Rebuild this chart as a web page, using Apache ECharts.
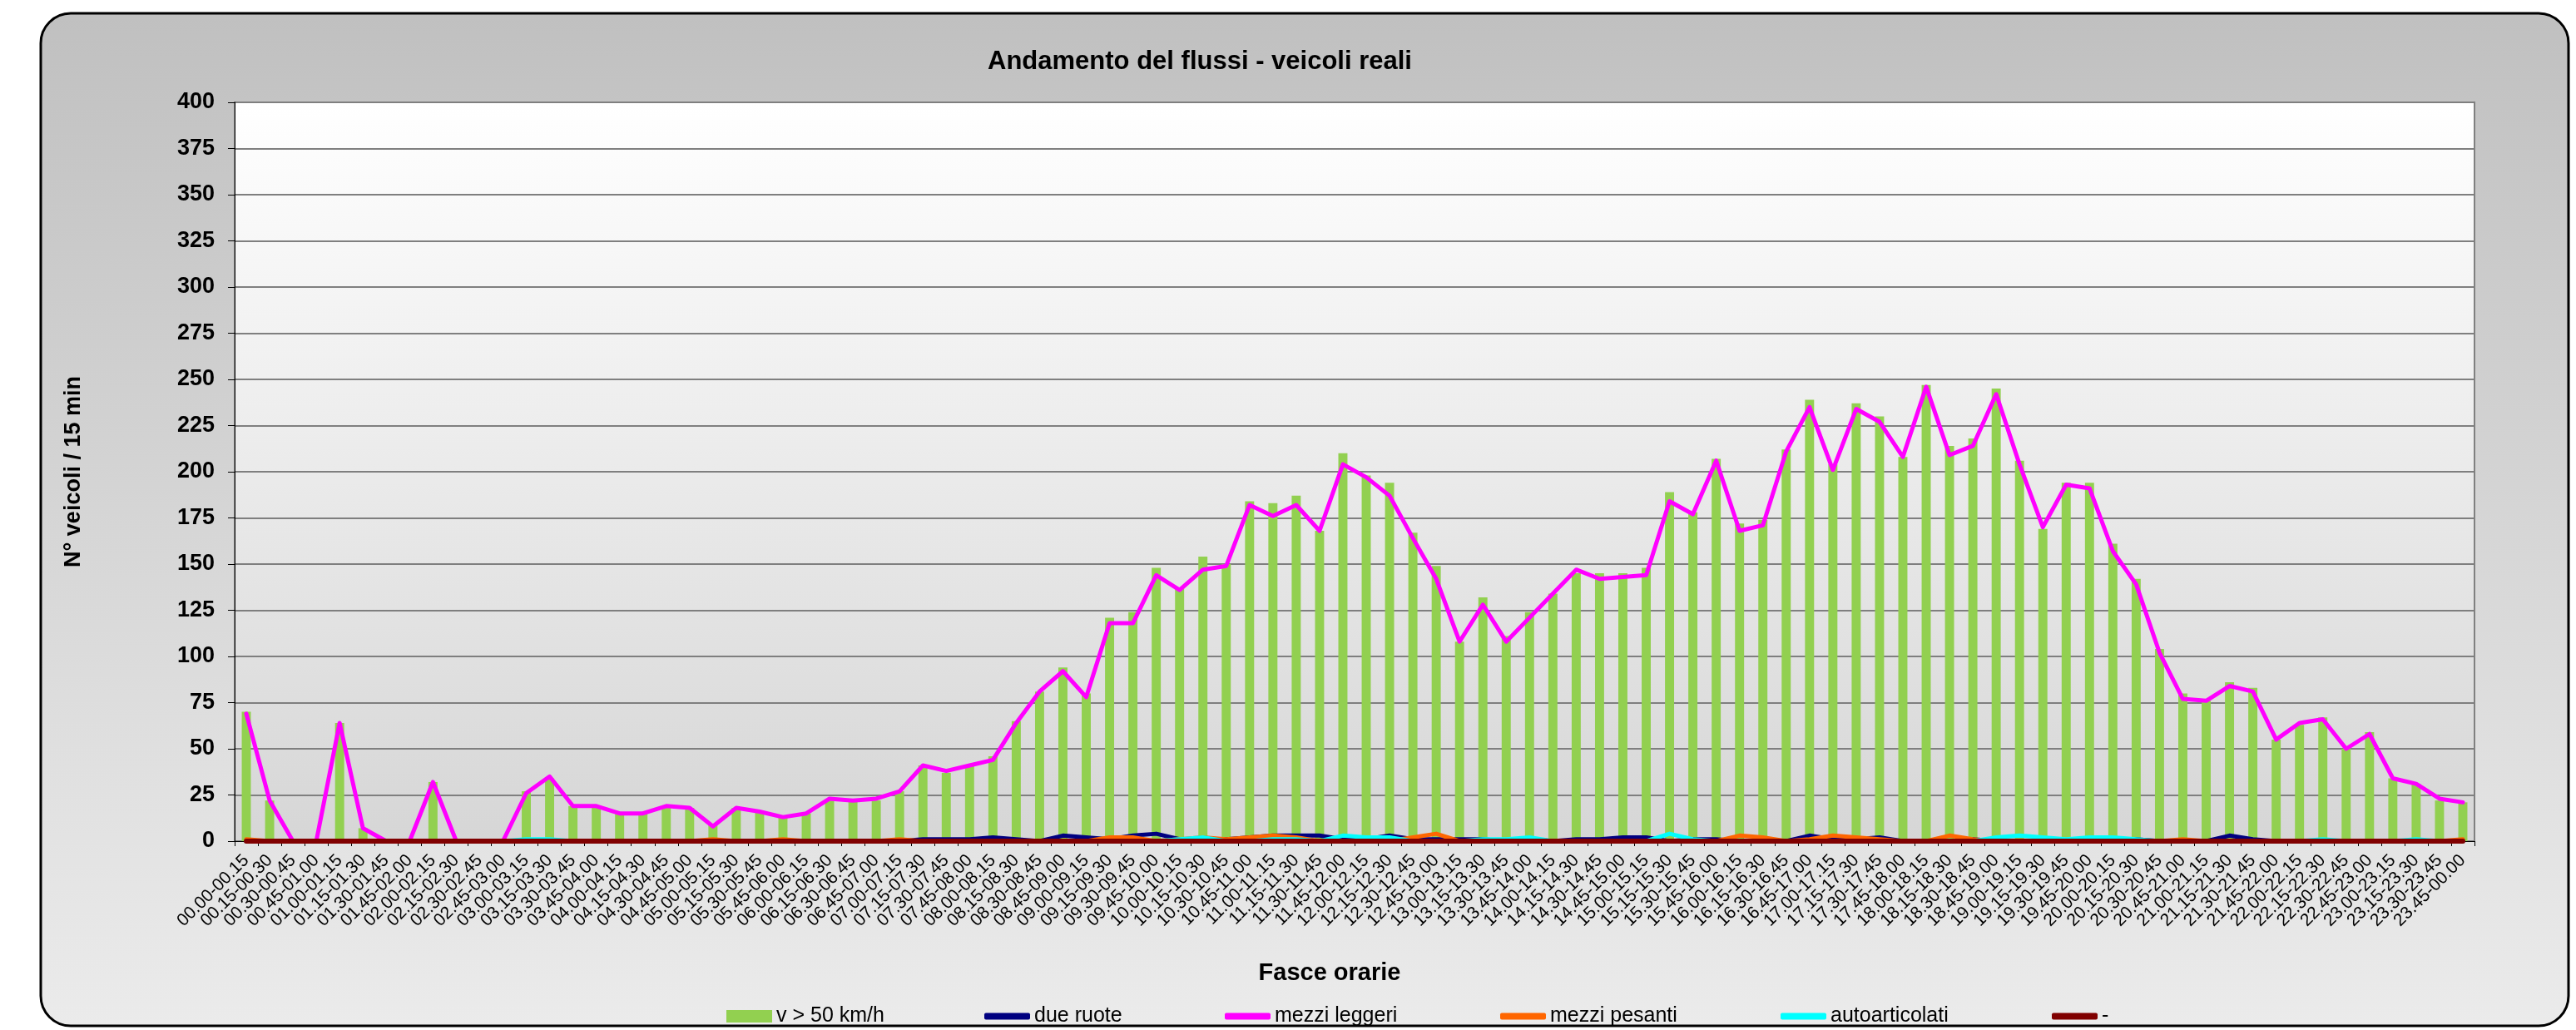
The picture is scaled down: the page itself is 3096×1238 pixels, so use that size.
<!DOCTYPE html>
<html>
<head>
<meta charset="utf-8">
<title>Andamento del flussi - veicoli reali</title>
<script src="https://cdn.jsdelivr.net/npm/echarts/dist/echarts.min.js"></script>
<style>
  html, body { margin: 0; padding: 0; background: #ffffff; }
  #container { width: 3096px; height: 1238px; }
</style>
</head>
<body>
<div id="container"></div>
<script>
// fasce orarie (categorie asse x)
var fasce = [
    '00.00-00.15','00.15-00.30','00.30-00.45','00.45-01.00','01.00-01.15','01.15-01.30','01.30-01.45','01.45-02.00',
    '02.00-02.15','02.15-02.30','02.30-02.45','02.45-03.00','03.00-03.15','03.15-03.30','03.30-03.45','03.45-04.00',
    '04.00-04.15','04.15-04.30','04.30-04.45','04.45-05.00','05.00-05.15','05.15-05.30','05.30-05.45','05.45-06.00',
    '06.00-06.15','06.15-06.30','06.30-06.45','06.45-07.00','07.00-07.15','07.15-07.30','07.30-07.45','07.45-08.00',
    '08.00-08.15','08.15-08.30','08.30-08.45','08.45-09.00','09.00-09.15','09.15-09.30','09.30-09.45','09.45-10.00',
    '10.00-10.15','10.15-10.30','10.30-10.45','10.45-11.00','11.00-11.15','11.15-11.30','11.30-11.45','11.45-12.00',
    '12.00-12.15','12.15-12.30','12.30-12.45','12.45-13.00','13.00-13.15','13.15-13.30','13.30-13.45','13.45-14.00',
    '14.00-14.15','14.15-14.30','14.30-14.45','14.45-15.00','15.00-15.15','15.15-15.30','15.30-15.45','15.45-16.00',
    '16.00-16.15','16.15-16.30','16.30-16.45','16.45-17.00','17.00-17.15','17.15-17.30','17.30-17.45','17.45-18.00',
    '18.00-18.15','18.15-18.30','18.30-18.45','18.45-19.00','19.00-19.15','19.15-19.30','19.30-19.45','19.45-20.00',
    '20.00-20.15','20.15-20.30','20.30-20.45','20.45-21.00','21.00-21.15','21.15-21.30','21.30-21.45','21.45-22.00',
    '22.00-22.15','22.15-22.30','22.30-22.45','22.45-23.00','23.00-23.15','23.15-23.30','23.30-23.45','23.45-00.00'
];
// v > 50 km/h (barre)
var veloci = [
    70,22,0,0,64,7,0,0,32,0,0,0,27,34,19,19,15,15,19,18,9,18,16,13,
    15,22,22,22,27,41,37,41,46,65,81,94,80,121,124,148,137,154,150,184,183,187,168,210,
    198,194,167,149,108,132,111,124,134,145,145,145,148,189,178,207,172,174,212,239,204,237,230,208,
    247,214,218,245,206,169,194,194,161,142,104,80,76,86,83,55,63,67,50,59,34,31,22,21
];
// mezzi leggeri
var leggeri = [
    69,22,0,0,64,7,0,0,32,0,0,0,26,35,19,19,15,15,19,18,8,18,16,13,
    15,23,22,23,27,41,38,41,44,64,81,92,78,118,118,144,136,147,149,182,176,182,168,204,
    197,187,164,142,108,128,108,121,134,147,142,143,144,184,177,206,168,171,211,235,201,234,227,208,
    246,209,214,242,204,170,193,191,157,139,102,77,76,84,81,55,64,66,50,58,34,31,23,21
];
// due ruote
var dueRuote = [
    0,0,0,0,0,0,0,0,0,0,0,0,0,0,0,0,0,0,0,0,0,0,0,0,
    0,0,0,0,0,1,1,1,2,1,0,3,2,1,3,4,1,1,1,2,3,3,3,1,
    1,3,1,1,1,1,0,1,0,1,1,2,2,0,1,1,0,0,0,3,1,1,2,0,
    0,0,1,0,0,0,0,0,1,1,0,0,0,3,1,0,0,0,0,0,0,0,0,0
];
// mezzi pesanti
var pesanti = [
    1,0,0,0,0,0,0,0,0,0,0,0,0,0,0,0,0,0,0,0,1,0,0,1,
    0,0,0,0,1,0,0,0,0,0,0,0,0,2,2,0,1,2,1,2,3,2,0,0,
    0,0,2,4,0,0,0,1,0,0,0,0,0,0,0,0,3,2,0,1,3,2,1,0,
    0,3,1,0,0,0,0,0,0,0,0,1,0,0,0,0,0,0,0,0,0,0,0,1
];
// autoarticolati
var autoart = [
    0,0,0,0,0,0,0,0,0,0,0,0,1,1,0,0,0,0,0,0,0,0,0,0,
    0,0,0,0,0,0,0,0,0,0,0,0,0,0,0,0,1,2,0,0,1,1,0,3,
    2,2,0,0,0,1,1,2,0,0,0,0,0,4,1,0,0,0,0,0,0,0,0,0,
    0,0,0,2,3,2,1,2,2,1,0,0,0,0,0,0,0,1,0,0,0,1,0,0
];
// serie "-"
var trattino = [
    0,0,0,0,0,0,0,0,0,0,0,0,0,0,0,0,0,0,0,0,0,0,0,0,
    0,0,0,0,0,0,0,0,0,0,0,0,0,0,0,0,0,0,0,0,0,0,0,0,
    0,0,0,0,0,0,0,0,0,0,0,0,0,0,0,0,0,0,0,0,0,0,0,0,
    0,0,0,0,0,0,0,0,0,0,0,0,0,0,0,0,0,0,0,0,0,0,0,0
];

var font = 'Liberation Sans, Arial, sans-serif';

function legenda(nome, left, icona, alto) {
    return {
        data: [{ name: nome, icon: icona }],
        left: left - 5,
        top: 1204,
        itemWidth: 55,
        itemHeight: alto,
        itemGap: 0,
        textStyle: { fontFamily: font, fontSize: 25, color: '#000000' }
    };
}

function linea(nome, dati, colore, spessore) {
    return {
        name: nome,
        type: 'line',
        data: dati,
        symbol: 'none',
        itemStyle: { color: colore },
        lineStyle: { color: colore, width: spessore, cap: 'round', join: 'round' }
    };
}

var dom = document.getElementById('container');
var myChart = echarts.init(dom);
var option = {
    backgroundColor: '#ffffff',
    animation: false,
    textStyle: { fontFamily: font },
    graphic: [{
        type: 'rect',
        z: -100,
        silent: true,
        shape: { x: 49, y: 16, width: 3038, height: 1217, r: 36 },
        style: {
            fill: new echarts.graphic.LinearGradient(0, 0, 0, 1, [
                { offset: 0, color: '#c0c0c0' },
                { offset: 1, color: '#ebebeb' }
            ]),
            stroke: '#000000',
            lineWidth: 3
        }
    }],
    title: {
        text: 'Andamento del flussi - veicoli reali',
        left: 1437,
        textAlign: 'center',
        top: 54,
        textStyle: { fontFamily: font, fontSize: 31, fontWeight: 'bold', color: '#000000' }
    },
    legend: [
        legenda('v > 50 km/h', 873, 'rect', 15),
        legenda('due ruote', 1183, 'roundRect', 8),
        legenda('mezzi leggeri', 1472, 'roundRect', 8),
        legenda('mezzi pesanti', 1803, 'roundRect', 8),
        legenda('autoarticolati', 2140, 'roundRect', 8),
        legenda('-', 2466, 'roundRect', 8)
    ],
    grid: {
        left: 282,
        right: 122,
        top: 123,
        bottom: 227,
        show: true,
        borderColor: '#808080',
        borderWidth: 2,
        backgroundColor: new echarts.graphic.LinearGradient(0, 0, 0, 1, [
            { offset: 0, color: '#ffffff' },
            { offset: 1, color: '#d6d6d6' }
        ])
    },
    xAxis: {
        type: 'category',
        data: fasce,
        boundaryGap: true,
        name: 'Fasce orarie',
        nameLocation: 'middle',
        nameGap: 144,
        nameTextStyle: { fontFamily: font, fontSize: 29, fontWeight: 'bold', color: '#000000', padding: [0, 60, 0, 0] },
        axisLine: { lineStyle: { color: '#000000', width: 1 } },
        axisTick: { show: true, interval: 0, length: 6, lineStyle: { color: '#000000' } },
        axisLabel: { interval: 0, rotate: 45, fontSize: 21, color: '#000000', margin: 20, fontFamily: font }
    },
    yAxis: {
        type: 'value',
        min: 0,
        max: 400,
        interval: 25,
        name: 'N° veicoli / 15 min',
        nameLocation: 'middle',
        nameGap: 180,
        nameTextStyle: { fontFamily: font, fontSize: 27, fontWeight: 'bold', color: '#000000' },
        axisLine: { show: true, lineStyle: { color: '#000000', width: 1 } },
        axisTick: { show: true, length: 8, lineStyle: { color: '#000000' } },
        axisLabel: { fontSize: 27, fontWeight: 'bold', color: '#000000', margin: 24, fontFamily: font },
        splitLine: { lineStyle: { color: '#7f7f7f', width: 2 } }
    },
    series: [
        {
            name: 'v > 50 km/h',
            type: 'bar',
            data: veloci,
            barWidth: '39%',
            itemStyle: { color: '#92d050' }
        },
        linea('due ruote', dueRuote, '#000080', 5),
        linea('mezzi leggeri', leggeri, '#ff00ff', 5),
        linea('mezzi pesanti', pesanti, '#ff6600', 5),
        linea('autoarticolati', autoart, '#00ffff', 5),
        linea('-', trattino, '#800000', 6)
    ]
};
if (option && typeof option === 'object') {
    myChart.setOption(option, true);
}
</script>
</body>
</html>
